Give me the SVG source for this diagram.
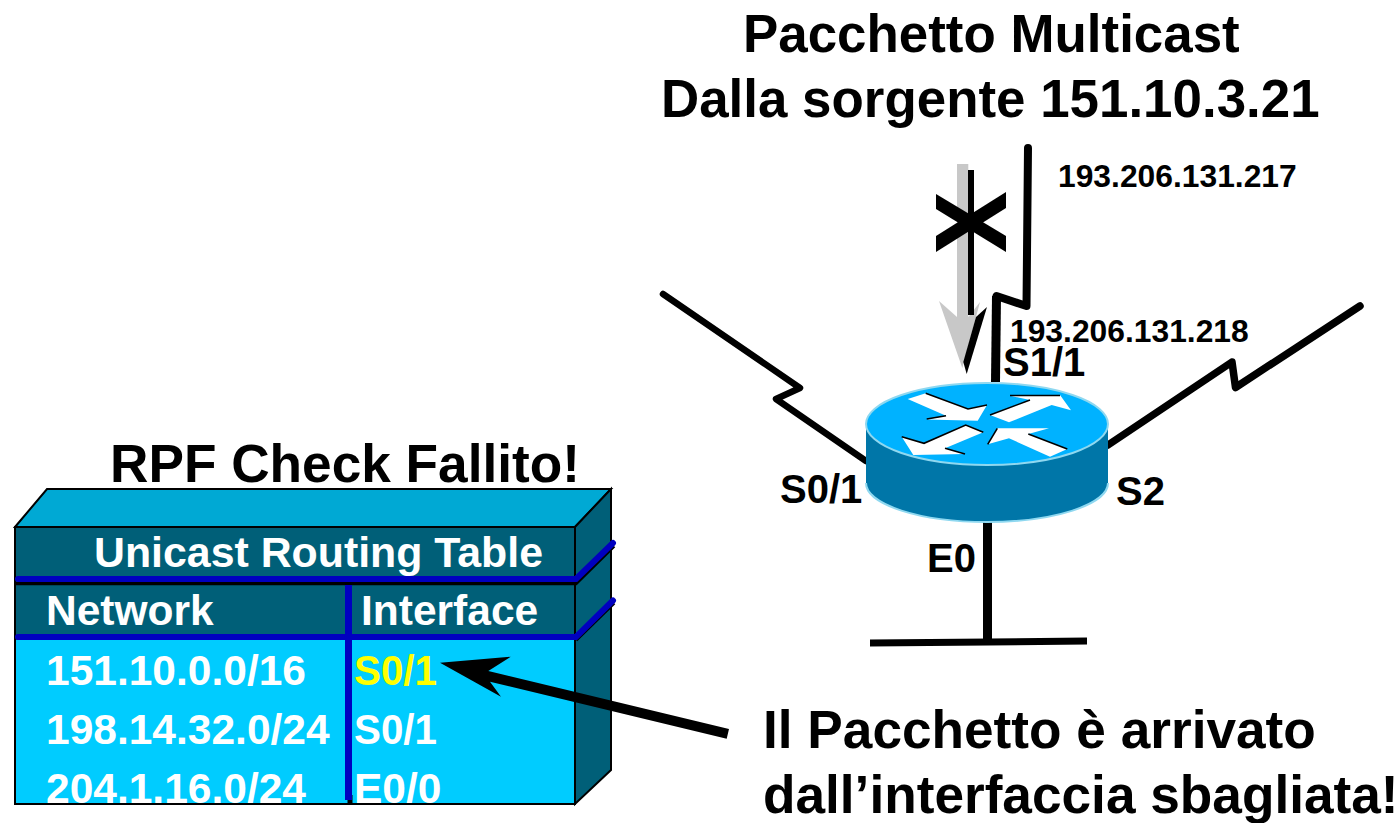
<svg xmlns="http://www.w3.org/2000/svg" width="1400" height="823" viewBox="0 0 1400 823">
<defs>
<style>
text{font-family:"Liberation Sans",Arial,sans-serif;font-weight:700;fill:#000}
.h{font-size:53.2px}.ti{font-size:52.9px}.ip{font-size:31.8px}.p{font-size:40px}.t{font-size:42.5px;fill:#fff}
.ln{fill:none;stroke:#000;stroke-width:6.5;stroke-linecap:round;stroke-linejoin:round}
.ar{fill:#fff}.ae{fill:none;stroke:#000;stroke-width:1.6}
.bl{fill:none;stroke:#0000C0;stroke-width:6;stroke-linecap:round}
.bk{fill:none;stroke:#000;stroke-width:3.5}
</style>
<clipPath id="tc"><rect x="15" y="527" width="560" height="276"/></clipPath>
</defs>
<g id="connectors">
<polyline class="ln" points="663,294 800,388 776,399 866,461"/>
<polyline class="ln" points="1360,306 1235.500,387.500 1232,362 1108,445" style="stroke-width:7.500"/>
<polyline class="ln" points="1028,148 1026.500,306 996.500,296" style="stroke-width:8"/>
<polyline class="ln" points="996.500,296 995.500,382" style="stroke-width:9;stroke-linecap:butt"/>
<line class="ln" x1="987.500" y1="520" x2="987.500" y2="640" style="stroke-width:9;stroke-linecap:butt"/>
<line class="ln" x1="870" y1="643" x2="1087" y2="641" style="stroke-width:7;stroke-linecap:butt"/>
</g>
<g id="packet-arrow">
<polygon fill="#c8c8c8" points="957,164 968.300,164 968.300,317 980,302 962.300,368 939,301 957,317"/>
<line x1="971" y1="170" x2="971" y2="315" stroke="#000" stroke-width="6"/>
<polygon points="987,307 976,317 963.300,362 966.700,374"/>
<polygon points="936,194 1006,236 1006,252 936,209"/>
<polygon points="936,236 1006,192 1006,208 936,252"/>
</g>
<g id="router">
<path fill="#0076A8" d="M866,424V483A121,39 0 0 0 1108,483V424Z"/>
<path fill="none" stroke="#8FD8F0" stroke-width="2" d="M866,483A121,39 0 0 0 1108,483"/>
<ellipse cx="987" cy="424" rx="121" ry="41" fill="#00B2FF" stroke="#8FD8F0" stroke-width="2"/>
<polygon class="ar" points="907.700,399 925.700,393.300 968,409 987,405 977.700,420.700 926.700,419.500 946,415.700"/>
<polyline class="ae" points="925.700,393.300 968,409 987,405"/>
<polyline class="ae" points="926.700,419 946,415.700"/>
<polygon class="ar" points="1010,395.700 1060,395 1071,410.300 1051.700,405 1009,422.300 990,415 1030,400"/>
<polyline class="ae" points="1010,395.500 1060,395.500"/>
<polyline class="ae" points="990,415 1030,400"/>
<polygon class="ar" points="901.700,436.700 924,443.300 965.700,425 983.300,432.300 945,448.300 965,454 913.300,455"/>
<polyline class="ae" points="901.700,436.700 924,443.300 965.700,425 983.300,432.300"/>
<polyline class="ae" points="945,448.300 965,454"/>
<polygon class="ar" points="987.700,444.300 997.300,428.300 1049,428.300 1028.300,434 1067.300,449 1050,456.700 1009,438.300"/>
<polyline class="ae" points="1028.300,434 1067.300,449"/>
<polyline class="ae" points="987.700,444.300 997.300,428.300"/>
</g>
<g id="routing-table">
<polygon fill="#00A9D4" stroke="#000" stroke-width="2" points="15,527 47,489 611,489 575,527"/>
<polygon fill="#005F78" stroke="#000" stroke-width="2" points="575,527 611,489 611,770 575,804"/>
<rect x="15" y="527" width="560" height="277" fill="#00CCFF" stroke="#000" stroke-width="2"/>
<rect x="16" y="528" width="558" height="112" fill="#005F78"/>
<polyline class="bk" points="15,583.500 576,583.500 614,546"/>
<polyline class="bk" points="576,640 614,603"/>
<polyline class="bl" points="18,579 576,579 613,543"/>
<polyline class="bl" points="18,637 576,637 613,600.500"/>
<line x1="350" y1="795" x2="350" y2="803" stroke="#000" stroke-width="5"/>
<line x1="348.500" y1="585" x2="348.500" y2="800" stroke="#0000C0" stroke-width="7"/>
<text class="t" x="94" y="567" textLength="449" lengthAdjust="spacingAndGlyphs">Unicast Routing Table</text>
<text class="t" x="46" y="625">Network</text>
<text class="t" x="361" y="625">Interface</text>
<text class="t" x="46" y="685">151.10.0.0/16</text>
<text class="t" x="354" y="685" style="fill:#FFFF00" textLength="83" lengthAdjust="spacingAndGlyphs">S0/1</text>
<text class="t" x="46" y="744">198.14.32.0/24</text>
<text class="t" x="354" y="744" textLength="83" lengthAdjust="spacingAndGlyphs">S0/1</text>
<g clip-path="url(#tc)">
<text class="t" x="46" y="803">204.1.16.0/24</text>
<text class="t" x="354" y="803">E0/0</text>
</g>
</g>
<g id="callout-arrow">
<polygon points="440,662.700 510.700,656.700 488.300,671 729,729 726.700,738.700 490,681.700 501,696.700"/>
</g>
<g id="labels">
<text class="ti" x="743" y="52">Pacchetto Multicast</text>
<text class="ti" x="661" y="117">Dalla sorgente 151.10.3.21</text>
<text class="ip" x="1058" y="187">193.206.131.217</text>
<text class="ip" x="1010" y="342">193.206.131.218</text>
<text class="p" x="1003" y="376">S1/1</text>
<text class="p" x="780" y="503">S0/1</text>
<text class="p" x="1116" y="505">S2</text>
<text class="p" x="927" y="572">E0</text>
<text class="h" x="110" y="482">RPF Check Fallito!</text>
<text class="h" x="763" y="748">Il Pacchetto è arrivato</text>
<text class="h" x="763" y="813">dall’interfaccia sbagliata!</text>
</g>
</svg>
